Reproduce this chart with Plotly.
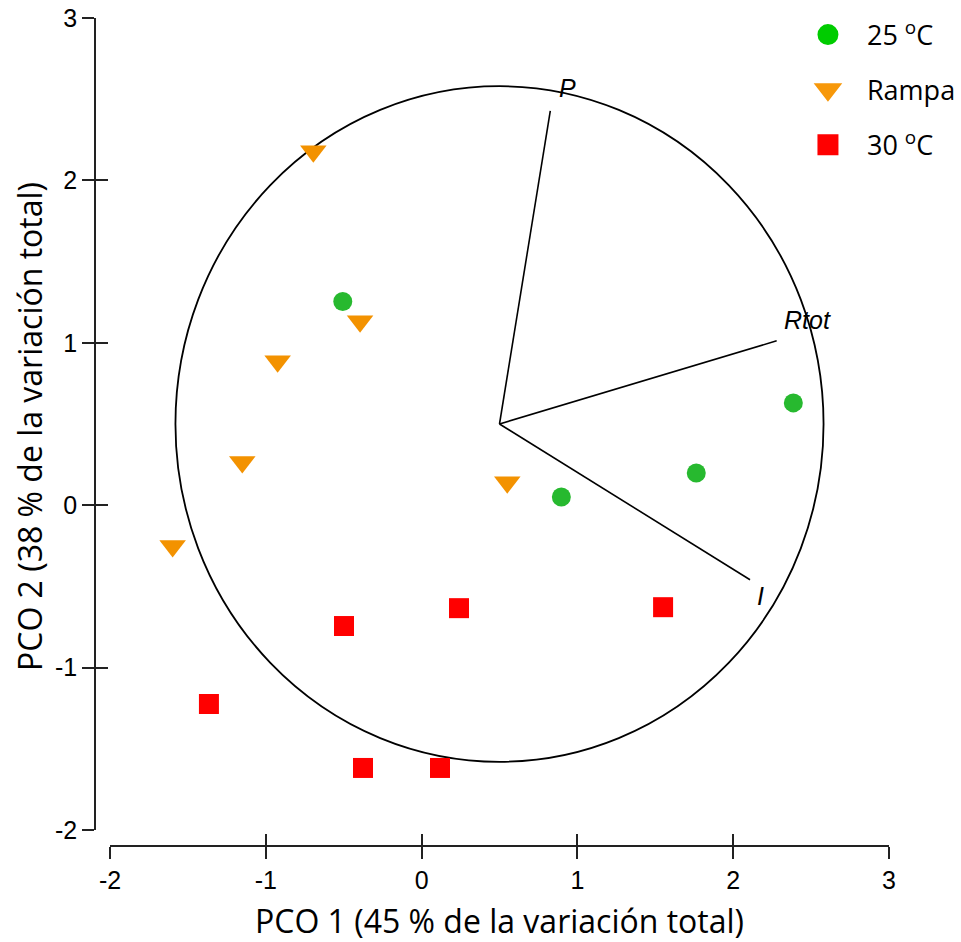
import plotly.graph_objects as go

# PCO scores per treatment
x_25 = [-0.506, 2.386, 1.763, 0.897]
y_25 = [1.254, 0.630, 0.198, 0.050]

x_rampa = [-0.695, -0.395, -0.924, -1.151, -1.598, 0.550]
y_rampa = [2.180, 1.132, 0.886, 0.266, -0.252, 0.142]

x_30 = [-0.498, 0.240, -1.365, -0.376, 0.118, 1.550]
y_30 = [-0.744, -0.634, -1.224, -1.618, -1.618, -0.628]

# Vector overlay (correlations of variables with the PCO axes)
vec_names = ["P", "Rtot", "I"]
vec_x = [0.826, 2.279, 2.108]
vec_y = [2.428, 1.012, -0.459]
vec_origin = (0.5, 0.5)
circle_radius = 2.08

tick_vals = [-2, -1, 0, 1, 2, 3]
tick_text = ["-2", "-1", "0", "1", "2", "3"]

labels = ["25 <sup>o</sup>C", "Rampa", "30 <sup>o</sup>C"]

TICK_FONT = dict(family="Liberation Sans, Arial, sans-serif", size=25, color="black")
TITLE_FONT = dict(family="Open Sans, Lato, sans-serif", size=32, color="black")

fig = go.Figure()

# Vectors drawn from the common origin
for name, vx, vy in zip(vec_names, vec_x, vec_y):
    fig.add_trace(go.Scatter(
        x=[vec_origin[0], vx], y=[vec_origin[1], vy], mode="lines",
        line=dict(color="black", width=1.6), showlegend=False, hoverinfo="skip"))

# Data points
fig.add_trace(go.Scatter(x=x_25, y=y_25, mode="markers", showlegend=False,
                         marker=dict(symbol="circle", size=19, color="#27b92f")))
fig.add_trace(go.Scatter(x=x_rampa, y=y_rampa, mode="markers", showlegend=False,
                         marker=dict(symbol="triangle-down", size=23, color="#f39200")))
fig.add_trace(go.Scatter(x=x_30, y=y_30, mode="markers", showlegend=False,
                         marker=dict(symbol="square", size=20, color="#ff0000")))

# Legend entries
legend_styles = [("circle", "#00cc00"), ("triangle-down", "#f7980a"), ("square", "#ff0000")]
for i, (lab, (sym, col)) in enumerate(zip(labels, legend_styles)):
    fig.add_trace(go.Scatter(
        x=[None], y=[None], mode="markers", name=lab, legendgroup=f"g{i}",
        marker=dict(symbol=sym, size=16, color=col, line=dict(color=col, width=5))))

# Companion axes carrying the inner half of the crossing ticks
fig.add_trace(go.Scatter(x=[], y=[], xaxis="x2", yaxis="y2", showlegend=False))

# Unit circle of the vector overlay
fig.add_shape(type="circle", xref="x", yref="y",
              x0=vec_origin[0] - circle_radius, x1=vec_origin[0] + circle_radius,
              y0=vec_origin[1] - circle_radius, y1=vec_origin[1] + circle_radius,
              line=dict(color="black", width=1.8), layer="below")

# Variable labels next to vector tips
label_shift = {"P": (17, 23), "Rtot": (31, 21), "I": (10, -16)}
for name, vx, vy in zip(vec_names, vec_x, vec_y):
    dx, dy = label_shift[name]
    fig.add_annotation(x=vx, y=vy, xref="x", yref="y", text=f"<i>{name}</i>",
                       showarrow=False, xshift=dx, yshift=dy,
                       font=dict(family="Liberation Sans, Arial, sans-serif", size=25, color="black"))

# Axis titles
fig.add_annotation(text="PCO 1 (45 % de la variación total)", xref="x domain", yref="paper",
                   x=0.5, y=0, xanchor="center", yanchor="middle", yshift=-74,
                   showarrow=False, font=TITLE_FONT)
fig.add_annotation(text="PCO 2 (38 % de la variación total)", xref="paper", yref="y domain",
                   x=0, y=0.5, xanchor="center", yanchor="middle", xshift=-66, yshift=-3,
                   textangle=-90, showarrow=False, font=TITLE_FONT)

axis_common = dict(range=[-2, 3], tickvals=tick_vals, showgrid=False, zeroline=False,
                   ticklen=12, tickwidth=1.6, tickcolor="#222")

fig.update_layout(
    width=961, height=942,
    margin=dict(l=95, r=72, t=18, b=96, autoexpand=False),
    plot_bgcolor="white", paper_bgcolor="white",
    xaxis=dict(**axis_common, ticktext=tick_text, domain=[15 / 794, 1], anchor="free", position=0,
               showline=True, linecolor="#222", linewidth=1.6, ticks="outside",
               tickfont=TICK_FONT),
    yaxis=dict(**axis_common, ticktext=tick_text, domain=[16 / 828, 1], anchor="free", position=0,
               showline=True, linecolor="#222", linewidth=1.6, ticks="outside",
               tickfont=TICK_FONT),
    xaxis2=dict(**axis_common, overlaying="x", anchor="free", position=0, ticks="inside",
                showticklabels=False, showline=False),
    yaxis2=dict(**axis_common, overlaying="y", anchor="free", position=0, ticks="inside",
                showticklabels=False, showline=False),
    legend=dict(x=0.874, y=1.009, xanchor="left", yanchor="top", itemwidth=68,
                traceorder="grouped", tracegroupgap=17, bgcolor="rgba(0,0,0,0)",
                font=dict(family="Open Sans, Lato, sans-serif", size=27, color="black")),
    showlegend=True,
)

fig.write_html("out.html")
